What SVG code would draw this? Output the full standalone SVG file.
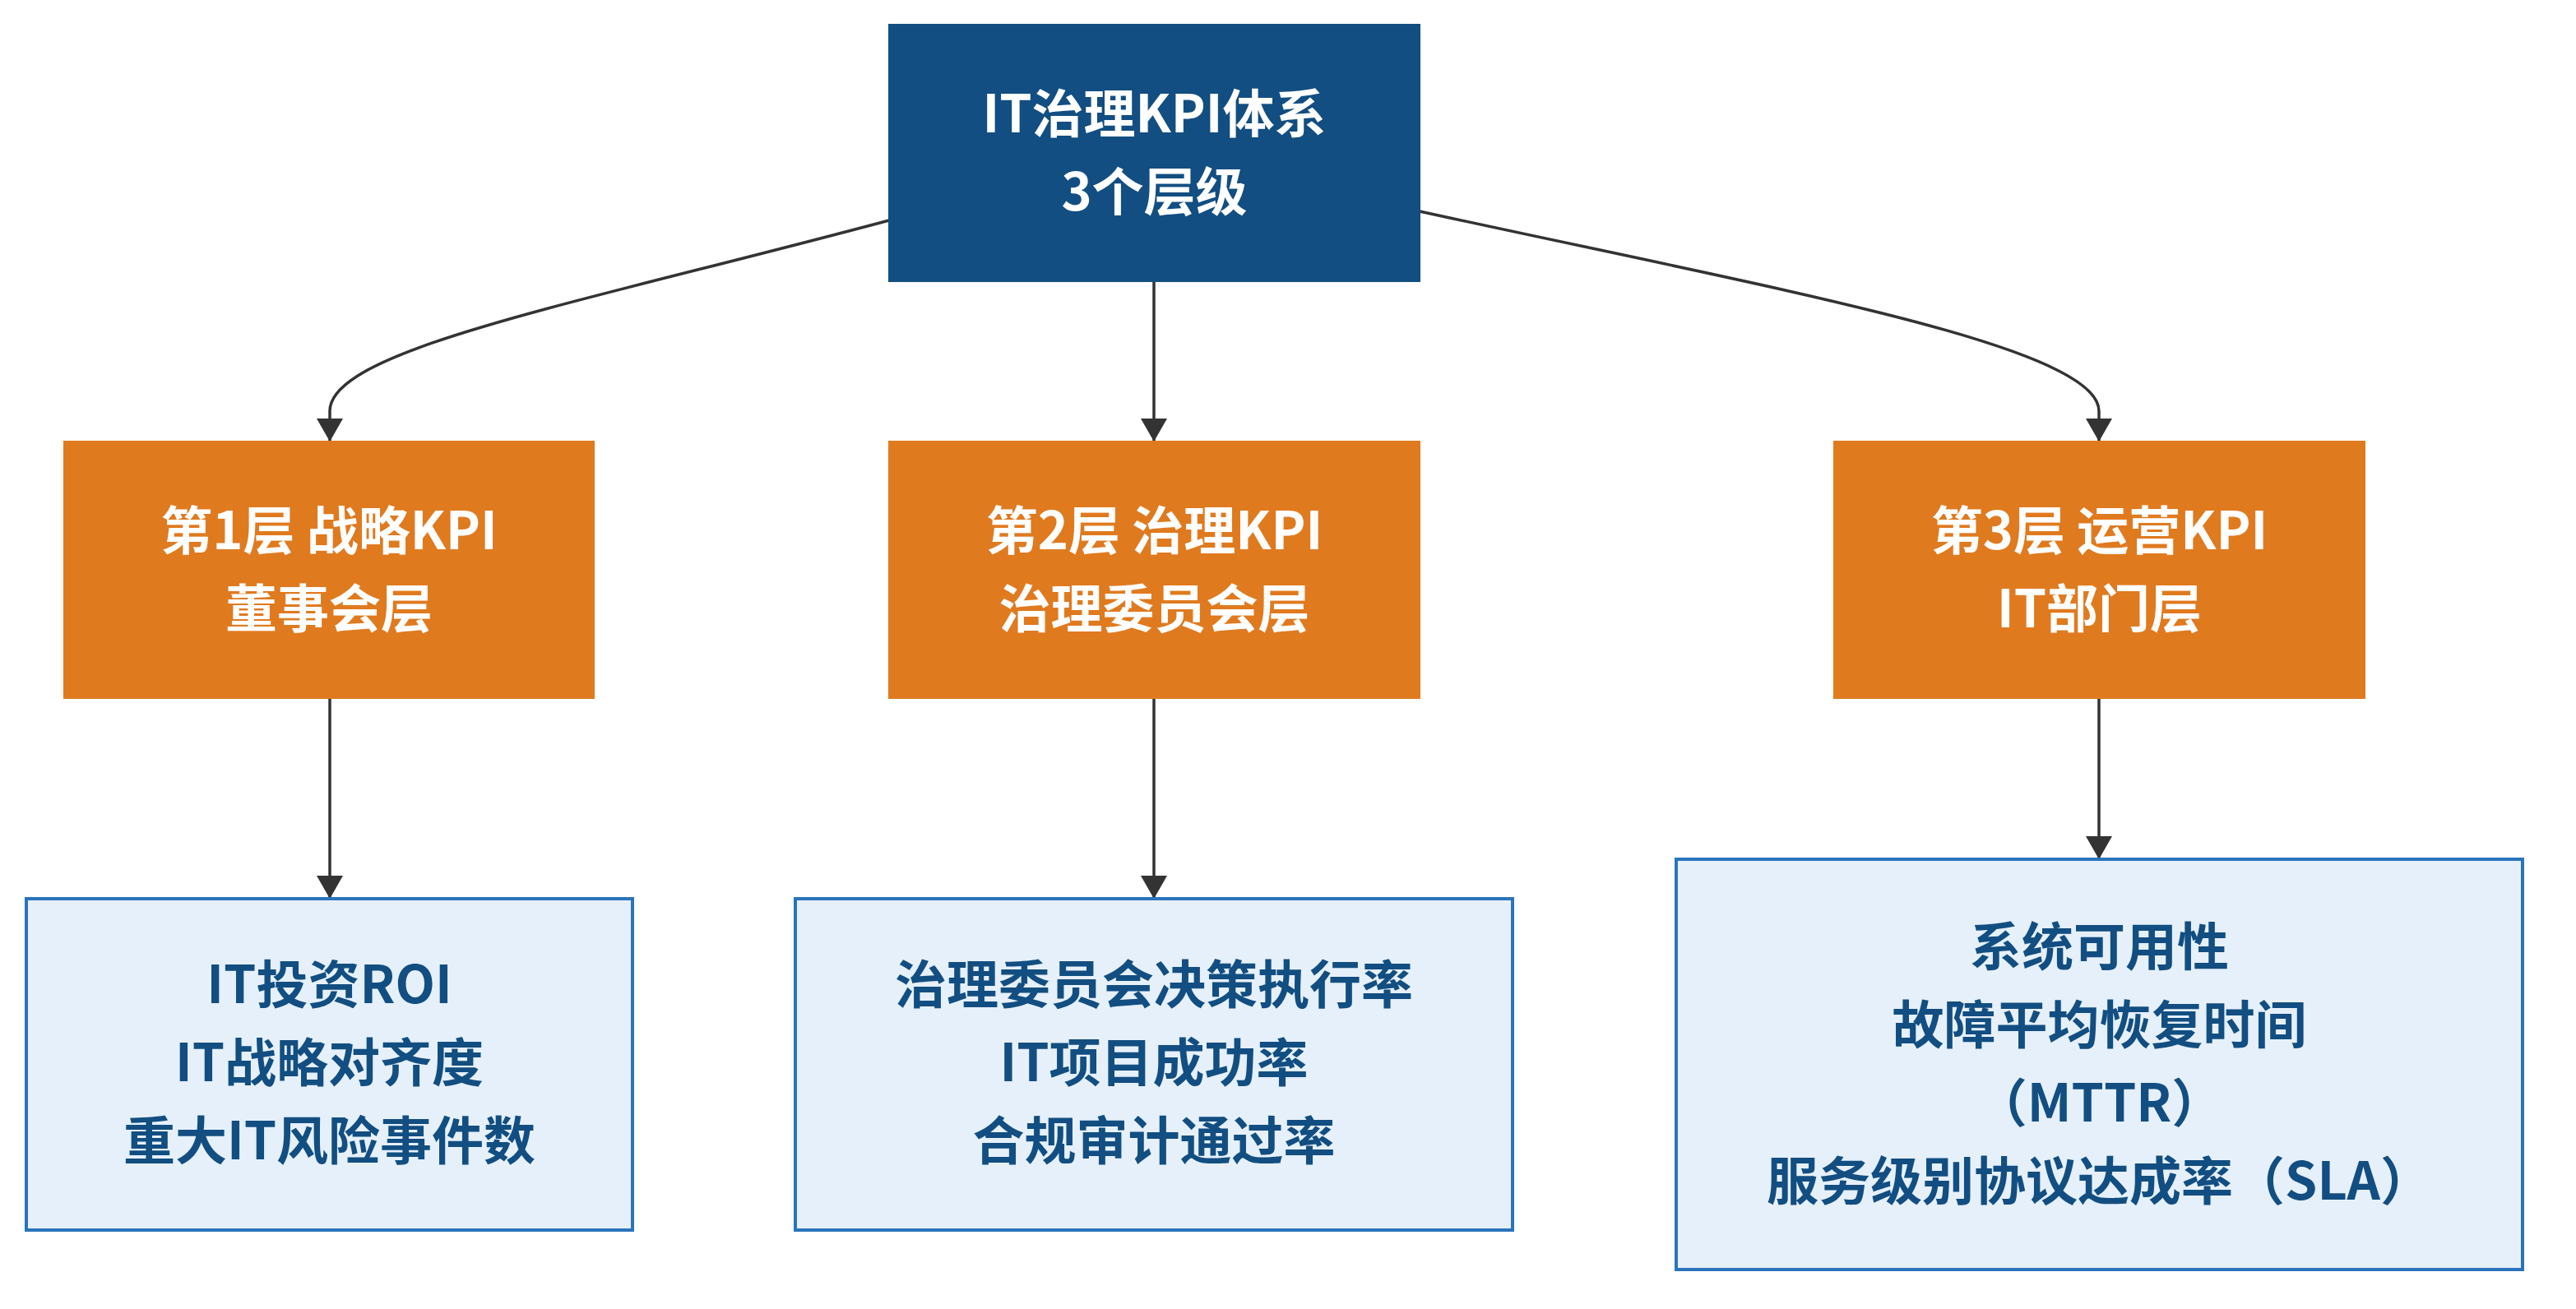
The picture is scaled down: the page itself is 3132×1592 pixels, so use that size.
<svg xmlns="http://www.w3.org/2000/svg" width="3132" height="1592" viewBox="0 0 3132 1592">
<defs>
<marker id="arrow" markerUnits="userSpaceOnUse" viewBox="0 0 28 32" refX="28" refY="16" markerWidth="28" markerHeight="32" orient="auto">
<path d="M0,0 L28,16 L0,32 z" fill="#333333"/>
</marker>
<style>
.edge{fill:none;stroke:#333333;stroke-width:3.5;marker-end:url(#arrow)}
.root rect{fill:#124e81;stroke:#124e81;stroke-width:2}
.tier rect{fill:#e07a1f;stroke:#e07a1f;stroke-width:2}
.kpi rect{fill:#e6f0fa;stroke:#2a74bc;stroke-width:4}
text{font-family:"Noto Sans CJK SC","Noto Sans",sans-serif;font-weight:700;font-size:63px;text-anchor:middle}
.root text,.tier text{fill:#ffffff}
.kpi text{fill:#124e81}
</style>
</defs>
<rect width="3132" height="1592" fill="#ffffff"/>
<g id="connectors">
<path class="edge" d="M1081,268 C700,370 401,425 401,500 L401,537"/>
<path class="edge" d="M1403,342 L1403,537"/>
<path class="edge" d="M1726,257 C2150,350 2552,420 2552,500 L2552,537"/>
<path class="edge" d="M401,849 L401,1093"/>
<path class="edge" d="M1403,849 L1403,1093"/>
<path class="edge" d="M2552,849 L2552,1045"/>
</g>
<g id="root" class="root">
<rect x="1081" y="30" width="645" height="312"/>
<text x="1403.5" y="161">IT治理KPI体系</text>
<text x="1403.5" y="256">3个层级</text>
</g>
<g id="tier1" class="tier">
<rect x="78" y="537" width="644" height="312"/>
<text x="400" y="668">第1层 战略KPI</text>
<text x="400" y="763">董事会层</text>
</g>
<g id="tier2" class="tier">
<rect x="1081" y="537" width="645" height="312"/>
<text x="1403.5" y="668">第2层 治理KPI</text>
<text x="1403.5" y="763">治理委员会层</text>
</g>
<g id="tier3" class="tier">
<rect x="2230" y="537" width="645" height="312"/>
<text x="2552.5" y="668">第3层 运营KPI</text>
<text x="2552.5" y="763">IT部门层</text>
</g>
<g id="kpi1" class="kpi">
<rect x="32" y="1093" width="737" height="403"/>
<text x="400.5" y="1220">IT投资ROI</text>
<text x="400.5" y="1315">IT战略对齐度</text>
<text x="400.5" y="1410">重大IT风险事件数</text>
</g>
<g id="kpi2" class="kpi">
<rect x="967" y="1093" width="872" height="403"/>
<text x="1403" y="1220">治理委员会决策执行率</text>
<text x="1403" y="1315">IT项目成功率</text>
<text x="1403" y="1410">合规审计通过率</text>
</g>
<g id="kpi3" class="kpi">
<rect x="2038" y="1045" width="1029" height="499"/>
<text x="2552.5" y="1174">系统可用性</text>
<text x="2552.5" y="1269">故障平均恢复时间</text>
<text x="2552.5" y="1364">（MTTR）</text>
<text x="2552.5" y="1459">服务级别协议达成率（SLA）</text>
</g>
</svg>
